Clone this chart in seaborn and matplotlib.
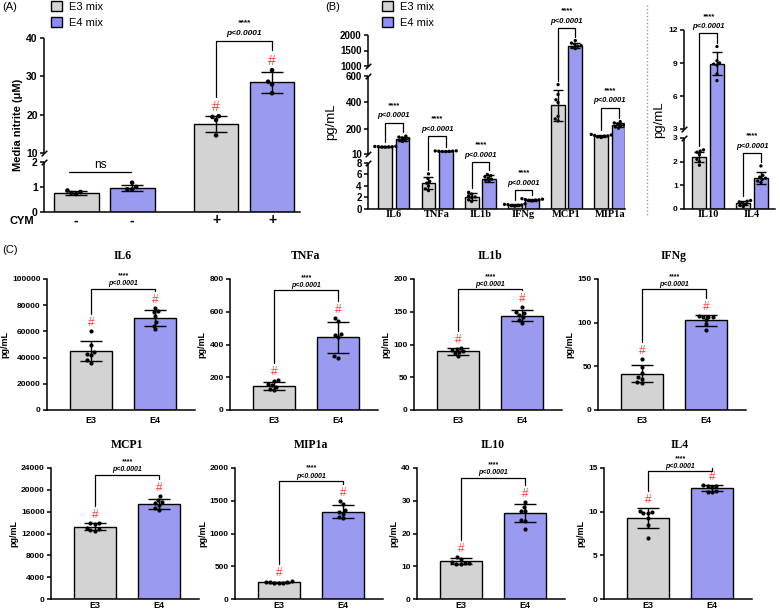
import numpy as np
import pandas as pd
import matplotlib
matplotlib.use("Agg")
import matplotlib.pyplot as plt
import seaborn as sns
from matplotlib.patches import Patch
from matplotlib.lines import Line2D

# ---------------- data ----------------
# panel A: media nitrite, CYM - / +
a_cym = ["-", "+"]
a_e3_mean = [0.78, 17.6]
a_e3_sd = [0.08, 2.0]
a_e4_mean = [0.97, 28.4]
a_e4_sd = [0.13, 2.7]
a_e3_pts = [[0.72, 0.76, 0.80, 0.86], [14.6, 18.6, 19.4, 19.6]]
a_e4_pts = [[0.90, 0.91, 1.00, 1.17], [25.6, 27.9, 28.6, 31.6]]

# panel B (left): pro-inflammatory cytokines
b_cyt = ["IL6", "TNFa", "IL1b", "IFNg", "MCP1", "MIP1a"]
b_e3_mean = [65, 4.5, 2.1, 0.7, 378, 147]
b_e3_sd = [2, 1.0, 0.6, 0.15, 115, 8]
b_e4_mean = [125, 31, 5.3, 1.6, 1660, 230]
b_e4_sd = [15, 2, 0.55, 0.15, 90, 15]
b_e3_pts = [[62, 63, 64, 65, 66, 67, 68],
            [3.2, 3.5, 4.0, 4.5, 4.8, 5.3, 6.1],
            [1.3, 1.6, 2.0, 2.1, 2.3, 2.6, 2.9],
            [0.5, 0.6, 0.65, 0.7, 0.75, 0.8, 0.9],
            [260, 275, 295, 400, 420, 460, 535],
            [135, 140, 145, 147, 150, 154, 158]]
b_e4_pts = [[105, 112, 120, 126, 132, 138, 145],
            [28, 29, 30, 31, 32, 33, 34],
            [4.8, 5.0, 5.2, 5.4, 5.6, 5.8, 6.0],
            [1.4, 1.5, 1.55, 1.6, 1.65, 1.7, 1.8],
            [1560, 1600, 1640, 1660, 1700, 1740, 1820],
            [205, 215, 225, 230, 238, 245, 255]]
b_bracket = [245, 146, 8.2, 3.3, 2225, 359]

# panel B (right): anti-inflammatory cytokines
b2_cyt = ["IL10", "IL4"]
b2_e3_mean = [2.2, 0.25]
b2_e3_sd = [0.22, 0.09]
b2_e4_mean = [8.95, 1.3]
b2_e4_sd = [1.05, 0.25]
b2_e3_pts = [[1.85, 2.0, 2.1, 2.3, 2.4, 2.45, 2.5],
             [0.1, 0.15, 0.2, 0.25, 0.3, 0.33, 0.36]]
b2_e4_pts = [[7.4, 8.0, 8.8, 8.9, 9.0, 9.2, 10.5],
             [1.12, 1.18, 1.25, 1.3, 1.35, 1.42, 1.82]]
b2_bracket = [11.7, 2.36]

# panel C: single cytokines
c_names = ["IL6", "TNFa", "IL1b", "IFNg", "MCP1", "MIP1a", "IL10", "IL4"]
c_e3_mean = [45000, 148, 89.5, 41.5, 13250, 255, 11.5, 9.25]
c_e3_sd = [7500, 24, 5, 9.5, 650, 12, 0.9, 1.15]
c_e4_mean = [70500, 445, 144, 102.5, 17400, 1335, 26.3, 12.7]
c_e4_sd = [6200, 95, 8.5, 6, 950, 100, 2.7, 0.38]
c_e3_pts = [[36000, 38000, 42000, 43000, 44000, 50000, 60000],
            [120, 130, 140, 150, 160, 175, 185],
            [82, 87, 88, 90, 92, 93, 95],
            [31, 32, 36, 38, 42, 49, 58],
            [12500, 12600, 12800, 13000, 13800, 13900, 14000],
            [248, 250, 250, 255, 260, 265, 270],
            [10.7, 10.8, 11.0, 11.0, 11.3, 12.2, 12.8],
            [7.0, 8.5, 9.3, 9.8, 9.9, 10.0, 10.1]]
c_e4_pts = [[61500, 64500, 67000, 72000, 75000, 75500, 78000],
            [320, 330, 445, 460, 465, 545, 560],
            [133, 138, 142, 145, 148, 150, 158],
            [92, 98, 103, 106, 107, 107, 108],
            [16300, 16700, 17200, 17500, 17800, 18200, 18900],
            [1230, 1250, 1300, 1330, 1360, 1450, 1490],
            [21.3, 23.8, 24.0, 26.8, 27.0, 28.0, 29.7],
            [12.2, 12.3, 12.4, 12.85, 12.9, 12.95, 13.0]]
c_ymax = [100000, 800, 200, 150, 24000, 2000, 40, 15]
c_step = [20000, 200, 50, 50, 4000, 500, 10, 5]
c_bracket = [92500, 730, 184, 138, 22750, 1800, 37, 14.6]

# ---------------- style ----------------
W, H = 780, 613
E3_COLOR = "#d3d3d3"
E4_COLOR = "#8c8cff"
HASH_COLOR = "#ff3b3b"
PAL = {"E3": E3_COLOR, "E4": E4_COLOR}
BLACK = {"E3": "black", "E4": "black"}
SERIF = "Liberation Serif"

sns.set_style("ticks", {"axes.edgecolor": "black", "xtick.color": "black",
                        "ytick.color": "black", "text.color": "black",
                        "axes.labelcolor": "black"})
plt.rcParams["font.family"] = ["Liberation Sans", "DejaVu Sans"]
plt.rcParams["axes.linewidth"] = 1.1

fig = plt.figure(figsize=(W / 100, H / 100), dpi=100)


def px_axes(left, top, right, bottom):
    return fig.add_axes([left / W, 1 - bottom / H, (right - left) / W, (bottom - top) / H])


def piecewise(xp, fp):
    xp = np.asarray(xp, float)
    fp = np.asarray(fp, float)
    k0 = (fp[1] - fp[0]) / (xp[1] - xp[0])
    k1 = (fp[-1] - fp[-2]) / (xp[-1] - xp[-2])

    def f(v):
        v = np.asarray(v, float)
        out = np.interp(v, xp, fp)
        out = np.where(v < xp[0], fp[0] + (v - xp[0]) * k0, out)
        out = np.where(v > xp[-1], fp[-1] + (v - xp[-1]) * k1, out)
        return out
    return f


def broken_scale(ax, segs):
    d = [v for s in segs for v in s[:2]]
    p = [v for s in segs for v in s[2:]]
    ax.set_yscale("function", functions=(piecewise(d, p), piecewise(p, d)))
    # draw the broken left axis line by hand
    ax.spines["left"].set_visible(False)
    tr = ax.get_yaxis_transform()
    for s in segs:
        ax.plot([0, 0], [s[0], s[1]], transform=tr, color="k", lw=1.1,
                clip_on=False, solid_capstyle="butt")
    for s in segs[:-1]:
        ax.plot([0], [s[1]], transform=tr, marker=[(-1, -1), (1, 1)], markersize=4,
                mec="k", mew=1.1, ls="none", clip_on=False)
    for s in segs[1:]:
        ax.plot([0], [s[0]], transform=tr, marker=[(-1, -1), (1, 1)], markersize=4,
                mec="k", mew=1.1, ls="none", clip_on=False)


def px_up(ax, y, px):
    disp = ax.transData.transform((0, y))
    return ax.transData.inverted().transform((disp[0], disp[1] + px))[1]


def bracket(ax, x1, x2, y_line, y1, y2, fs, p_off, s_off):
    ax.plot([x1, x1, x2, x2], [y1, y_line, y_line, y2], color="k", lw=0.9,
            clip_on=False, zorder=5)
    xm = (x1 + x2) / 2
    ax.annotate("p<0.0001", (xm, y_line), xytext=(0, p_off), textcoords="offset pixels",
                ha="center", va="center", fontsize=fs, fontstyle="italic",
                fontweight="bold", annotation_clip=False)
    ax.annotate("****", (xm, y_line), xytext=(0, s_off), textcoords="offset pixels",
                ha="center", va="center", fontsize=fs, fontstyle="italic",
                fontweight="bold", annotation_clip=False)


def hash_mark(ax, x, y, fs, off):
    ax.annotate("#", (x, y), xytext=(0, off), textcoords="offset pixels", ha="center",
                va="bottom", fontsize=fs, color=HASH_COLOR, annotation_clip=False)


def grouped(ax, cats, m3, s3, m4, s4, p3, p4, ptsize, capsize):
    n = len(cats)
    bars = pd.DataFrame({"cat": cats + cats, "mix": ["E3"] * n + ["E4"] * n,
                         "val": m3 + m4})
    rows = []
    for c, a, b in zip(cats, p3, p4):
        rows += [(c, "E3", v) for v in a] + [(c, "E4", v) for v in b]
    pts = pd.DataFrame(rows, columns=["cat", "mix", "val"])
    sns.barplot(bars, x="cat", y="val", hue="mix", order=cats, hue_order=["E3", "E4"],
                palette=PAL, width=0.8, gap=0.2, edgecolor="k", linewidth=1.0,
                errorbar=None, legend=False, ax=ax)
    sns.swarmplot(pts, x="cat", y="val", hue="mix", order=cats, hue_order=["E3", "E4"],
                  dodge=True, palette=BLACK, size=ptsize, legend=False, ax=ax, zorder=3)
    x = np.arange(n)
    for off, m, s in ((-0.2, m3, s3), (0.2, m4, s4)):
        ax.errorbar(x + off, m, yerr=s, fmt="none", ecolor="k", elinewidth=1,
                    capsize=capsize, capthick=1, zorder=4)
    sns.despine(ax=ax)
    ax.set_xlabel("")


def tops(m, s, p):
    return [max(mm + ss, max(pp)) for mm, ss, pp in zip(m, s, p)]


# ---------------- panel A ----------------
axA = px_axes(44, 38, 300, 212)
grouped(axA, ["CYM-", "CYM+"], a_e3_mean, a_e3_sd, a_e4_mean, a_e4_sd,
        a_e3_pts, a_e4_pts, 3.3, 8)
broken_scale(axA, [(0, 2, 0, 50), (10, 40, 59, 174)])
axA.set_ylim(0, 40)
axA.set_xlim(-0.43, 1.40)
axA.set_yticks([0, 1, 2, 10, 20, 30, 40])
axA.set_xticks([-0.2, 0.2, 0.8, 1.2], [a_cym[0], a_cym[0], a_cym[1], a_cym[1]],
               fontsize=10, fontweight="bold")
axA.tick_params(axis="x", length=0, pad=1)
axA.tick_params(axis="y", length=3, width=1.1, labelsize=7.5, pad=1.5)
for t in axA.get_yticklabels():
    t.set_fontweight("bold")
axA.set_ylabel("Media nitrite (μM)", fontsize=8, fontweight="bold", labelpad=2)
fig.text(22 / W, 1 - 221 / H, "CYM", ha="center", va="center", fontsize=8, fontweight="bold")
# ns between the CYM- bars
axA.plot([-0.25, 0.19], [1.6, 1.6], color="k", lw=0.9)
axA.annotate("ns", (-0.03, 1.6), xytext=(0, 7), textcoords="offset pixels",
             ha="center", va="center", fontsize=8.5)
ta3 = tops(a_e3_mean, a_e3_sd, a_e3_pts)
ta4 = tops(a_e4_mean, a_e4_sd, a_e4_pts)
hash_mark(axA, 0.8, ta3[1], 10, 2)
hash_mark(axA, 1.2, ta4[1], 10, 2)
bracket(axA, 0.8, 1.2, 39.2, px_up(axA, ta3[1], 19), px_up(axA, ta4[1], 20), 6, 8, 18)
axA.set_ylim(0, 40)

# ---------------- panel B left ----------------
axB = px_axes(368, 35, 625, 209)
grouped(axB, b_cyt, b_e3_mean, b_e3_sd, b_e4_mean, b_e4_sd, b_e3_pts, b_e4_pts, 2.4, 3.5)
broken_scale(axB, [(0, 8, 0, 46), (10, 600, 55, 133), (1000, 2000, 143, 174)])
axB.set_ylim(0, 2000)
axB.set_xlim(-0.6, 5.35)
axB.set_yticks([0, 2, 4, 6, 8, 10, 200, 400, 600, 1000, 1500, 2000])
axB.set_xticks(range(len(b_cyt)), b_cyt, fontfamily=SERIF, fontweight="bold", fontsize=7.5)
axB.tick_params(axis="x", length=0, pad=1)
axB.tick_params(axis="y", length=3, width=1.1, labelsize=7, pad=1.5)
for t in axB.get_yticklabels():
    t.set_fontweight("bold")
axB.set_ylabel("pg/mL", fontsize=9.5, labelpad=2)
tb3 = tops(b_e3_mean, b_e3_sd, b_e3_pts)
tb4 = tops(b_e4_mean, b_e4_sd, b_e4_pts)
for i, yl in enumerate(b_bracket):
    bracket(axB, i - 0.2, i + 0.2, yl, px_up(axB, tb3[i], 4), px_up(axB, tb4[i], 4),
            5.5, 7, 17)
axB.set_ylim(0, 2000)

# ---------------- panel B right ----------------
axB2 = px_axes(684, 30, 775, 209)
grouped(axB2, b2_cyt, b2_e3_mean, b2_e3_sd, b2_e4_mean, b2_e4_sd,
        b2_e3_pts, b2_e4_pts, 2.4, 3.5)
broken_scale(axB2, [(0, 3, 0, 71), (3.001, 12, 80, 179)])
axB2.set_ylim(0, 12)
axB2.set_xlim(-0.55, 1.52)
axB2.set_yticks([0, 1, 2, 3, 3.001, 6, 9, 12], ["0", "1", "2", "3", "3", "6", "9", "12"])
axB2.set_xticks(range(len(b2_cyt)), b2_cyt, fontfamily=SERIF, fontweight="bold", fontsize=7.5)
axB2.tick_params(axis="x", length=0, pad=1)
axB2.tick_params(axis="y", length=3, width=1.1, labelsize=6, pad=1.5)
for t in axB2.get_yticklabels():
    t.set_fontweight("bold")
axB2.set_ylabel("pg/mL", fontsize=9.5, labelpad=2)
tc3 = tops(b2_e3_mean, b2_e3_sd, b2_e3_pts)
tc4 = tops(b2_e4_mean, b2_e4_sd, b2_e4_pts)
for i, yl in enumerate(b2_bracket):
    bracket(axB2, i - 0.2, i + 0.2, yl, px_up(axB2, tc3[i], 4), px_up(axB2, tc4[i], 4),
            5.5, 7, 17)
axB2.set_ylim(0, 12)

# dotted separator between the two B plots
fig.add_artist(Line2D([647 / W, 647 / W], [1 - 5 / H, 1 - 215 / H], transform=fig.transFigure,
                      color="0.6", lw=1, ls=(0, (1, 1.5))))

# legends
for lx in (50, 381):
    fig.legend(handles=[Patch(facecolor=E3_COLOR, edgecolor="k", lw=1, label="E3 mix"),
                        Patch(facecolor=E4_COLOR, edgecolor="k", lw=1, label="E4 mix")],
               loc="upper left", bbox_to_anchor=(lx / W, 1 - 0 / H), frameon=False,
               fontsize=8, handlelength=1.0, handleheight=1.0, labelspacing=0.5,
               handletextpad=0.6, borderpad=0.1, borderaxespad=0)

# ---------------- panel C ----------------
c_left = [47, 230, 414, 598, 51, 235, 417, 604]
for i, name in enumerate(c_names):
    top, bottom, xpad = (279, 410, 4) if i < 4 else (468, 599, 1.5)
    left = c_left[i]
    ax = px_axes(left, top, left + 148, bottom)
    bars = pd.DataFrame({"grp": ["E3", "E4"], "val": [c_e3_mean[i], c_e4_mean[i]]})
    pts = pd.DataFrame({"grp": ["E3"] * len(c_e3_pts[i]) + ["E4"] * len(c_e4_pts[i]),
                        "val": c_e3_pts[i] + c_e4_pts[i]})
    sns.barplot(bars, x="grp", y="val", hue="grp", palette=PAL, width=0.65,
                edgecolor="k", linewidth=1.0, errorbar=None, legend=False, ax=ax)
    sns.swarmplot(pts, x="grp", y="val", color="k", size=3.0, ax=ax, zorder=3)
    ax.errorbar([0, 1], [c_e3_mean[i], c_e4_mean[i]], yerr=[c_e3_sd[i], c_e4_sd[i]],
                fmt="none", ecolor="k", elinewidth=1, capsize=8, capthick=1, zorder=4)
    sns.despine(ax=ax)
    ax.set_ylim(0, c_ymax[i])
    ax.set_xlim(-0.68, 1.62)
    ax.set_yticks(np.arange(0, c_ymax[i] + c_step[i] / 2, c_step[i]))
    ax.tick_params(axis="y", length=3, width=1.1, labelsize=6, pad=1.5)
    ax.tick_params(axis="x", length=0, labelsize=6.5, pad=xpad)
    for t in ax.get_yticklabels() + ax.get_xticklabels():
        t.set_fontweight("bold")
    ax.set_xlabel("")
    ax.set_ylabel("pg/mL", fontsize=6.5, fontweight="bold", labelpad=2)
    ax.text(0.5, px_up(ax, c_ymax[i], 23), name, fontfamily=SERIF, fontweight="bold",
            fontsize=8.5, ha="center", va="center")
    t3 = max(c_e3_mean[i] + c_e3_sd[i], max(c_e3_pts[i]))
    t4 = max(c_e4_mean[i] + c_e4_sd[i], max(c_e4_pts[i]))
    hash_mark(ax, 0, t3, 8.5, 2)
    hash_mark(ax, 1, t4, 8.5, 2)
    bracket(ax, 0, 1, c_bracket[i], px_up(ax, t3, 17), px_up(ax, t4, 17), 5, 5, 13)
    ax.set_ylim(0, c_ymax[i])

# panel letters
fig.text(2 / W, 1 - 7 / H, "(A)", fontsize=8, va="center")
fig.text(325 / W, 1 - 7 / H, "(B)", fontsize=8, va="center")
fig.text(2 / W, 1 - 250 / H, "(C)", fontsize=8, va="center")

fig.savefig("out.png", dpi=100)
